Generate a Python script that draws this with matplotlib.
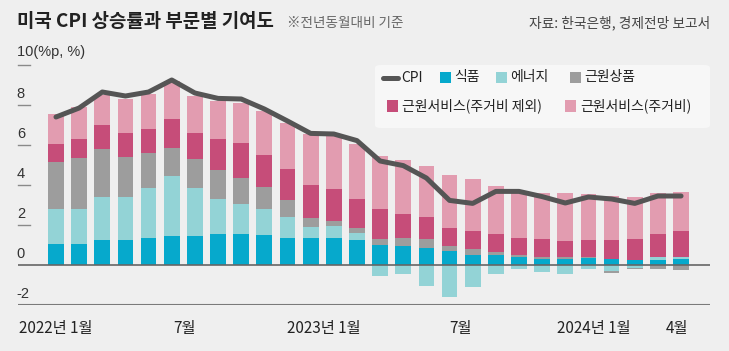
import numpy as np
import matplotlib
matplotlib.use("Agg")
import matplotlib.pyplot as plt
from matplotlib.patches import FancyBboxPatch, Rectangle
from matplotlib.lines import Line2D

plt.rcParams['font.family'] = ['Noto Sans CJK KR', 'DejaVu Sans']

# ---- data (contributions, %p; CPI, %) ----
months = ['2022-01', '2022-02', '2022-03', '2022-04', '2022-05', '2022-06', '2022-07',
          '2022-08', '2022-09', '2022-10', '2022-11', '2022-12', '2023-01', '2023-02',
          '2023-03', '2023-04', '2023-05', '2023-06', '2023-07', '2023-08', '2023-09',
          '2023-10', '2023-11', '2023-12', '2024-01', '2024-02', '2024-03', '2024-04']
food = [1.03, 1.03, 1.23, 1.25, 1.37, 1.43, 1.43, 1.55, 1.55, 1.48, 1.37, 1.37, 1.37, 1.27,
        1.02, 0.93, 0.85, 0.68, 0.52, 0.48, 0.42, 0.32, 0.32, 0.35, 0.30, 0.25, 0.25, 0.28]
energy = [1.75, 1.75, 2.19, 2.17, 2.50, 3.02, 2.44, 1.77, 1.50, 1.30, 1.05, 0.53, 0.58, 0.35,
          -0.57, -0.43, -1.03, -1.62, -1.12, -0.43, -0.18, -0.37, -0.45, -0.18, -0.32, -0.13, 0.15, 0.14]
core_goods = [2.39, 2.55, 2.40, 2.00, 1.71, 1.42, 1.41, 1.43, 1.32, 1.14, 0.83, 0.47, 0.25, 0.21,
              0.27, 0.44, 0.45, 0.27, 0.26, 0.15, 0.06, 0.08, 0.08, 0.05, -0.10, -0.08, -0.18, -0.27]
services_ex_shelter = [0.90, 0.95, 1.18, 1.20, 1.20, 1.41, 1.34, 1.53, 1.71, 1.58, 1.53, 1.63, 1.58, 1.49,
                       1.53, 1.20, 1.08, 0.92, 0.90, 0.90, 0.85, 0.88, 0.78, 0.85, 0.95, 1.07, 1.17, 1.28]
shelter = [1.50, 1.62, 1.48, 1.66, 1.75, 1.92, 1.83, 1.92, 2.04, 2.20, 2.34, 2.53, 2.67, 2.71,
           2.63, 2.70, 2.59, 2.63, 2.62, 2.44, 2.32, 2.32, 2.42, 2.28, 2.22, 2.08, 2.01, 1.97]
cpi = [7.40, 7.85, 8.65, 8.45, 8.65, 9.25, 8.60, 8.33, 8.30, 7.80, 7.20, 6.58, 6.55, 6.22,
       5.20, 4.97, 4.35, 3.23, 3.08, 3.68, 3.68, 3.42, 3.10, 3.40, 3.30, 3.08, 3.45, 3.45]

series_names = ['식품', '에너지', '근원상품', '근원서비스(주거비 제외)', '근원서비스(주거비)']
series_vals = [food, energy, core_goods, services_ex_shelter, shelter]
colors = ['#06a9cc', '#93d3d6', '#9d9d9d', '#c64d79', '#e29cb0']
cpi_color = '#555555'

xtick_pos = [0, 5.56, 11.58, 17.47, 23.24, 26.82]
xtick_labels = ['2022년 1월', '7월', '2023년 1월', '7월', '2024년 1월', '4월']
ytick_vals = [8, 6, 4, 2, 0, -2]

BG = '#efefef'
W, H = 729, 351
fig = plt.figure(figsize=(W / 100, H / 100), dpi=100, facecolor=BG)

def fx(px):
    return px / W

def fy(py):
    return 1 - py / H

ax_left, ax_right, ax_top, ax_bot = 18, 710, 65, 305
ax = fig.add_axes([fx(ax_left), fy(ax_bot), (ax_right - ax_left) / W, (ax_bot - ax_top) / H])
ax.set_facecolor(BG)
x = np.arange(len(months))
x0 = (ax_left - 56) / 23.15
x1 = (ax_right - 56) / 23.15
ax.set_xlim(x0, x1)
ax.set_ylim(-2, 10)
for s in ax.spines.values():
    s.set_visible(False)
ax.set_xticks([])
ax.set_yticks([])

pos_bottom = np.zeros(len(months))
neg_bottom = np.zeros(len(months))
for vals, c in zip(series_vals, colors):
    v = np.array(vals)
    pos = np.where(v > 0, v, 0)
    neg = np.where(v < 0, v, 0)
    ax.bar(x, pos, bottom=pos_bottom, width=0.68, color=c, linewidth=0, zorder=2)
    ax.bar(x, neg, bottom=neg_bottom, width=0.68, color=c, linewidth=0, zorder=2)
    pos_bottom += pos
    neg_bottom += neg

ax.axhline(0, color='#666666', lw=1.2, zorder=3)
ax.axhline(-2, color='#7a7a7a', lw=1.5, zorder=3)
ax.plot(x, cpi, color=cpi_color, lw=3.6, solid_joinstyle='round', solid_capstyle='round', zorder=5)

# y tick dashes and labels
dash_end = x0 + 12 / 23.15
for v in [10, 8, 6, 4, 2]:
    ax.plot([x0, dash_end], [v, v], color='#8a8a8a', lw=1.0, clip_on=False, zorder=3)
for v in ytick_vals:
    ax.text(x0 - 0.05, v + 0.33, str(v) if v >= 0 else '-2', ha='left', va='baseline',
            fontsize=10.5, color='#333333', family=['Liberation Sans', 'DejaVu Sans'])
ax.text(x0 - 0.05, 10 + 0.45, '10(%p, %)', ha='left', va='baseline', fontsize=10.5,
        color='#333333', family=['Liberation Sans', 'DejaVu Sans'])

for p, lab in zip(xtick_pos, xtick_labels):
    ax.text(p, -2 - 28 / 20, lab, ha='center', va='baseline', fontsize=11, color='#222222',
            clip_on=False)

# title, subtitle, source
fig.text(fx(17), fy(21.5), '미국 CPI 상승률과 부문별 기여도', fontsize=13.6, fontweight='bold',
         color='#222222', ha='left', va='center')
fig.text(fx(287), fy(23), '※전년동월대비 기준', fontsize=9.8, color='#666666', ha='left', va='center')
fig.text(fx(710), fy(23), '자료: 한국은행, 경제전망 보고서', fontsize=9.9, color='#444444',
         ha='right', va='center')

# legend (manual)
box = FancyBboxPatch((fx(375), fy(128)), fx(710) - fx(375), fy(65) - fy(128),
                     boxstyle='round,pad=0,rounding_size=0.008', transform=fig.transFigure,
                     facecolor='#f7f7f7', edgecolor='none', zorder=1)
fig.add_artist(box)

def sq(px, py, c):
    fig.add_artist(Rectangle((fx(px), fy(py + 11)), 11 / W, 11 / H, transform=fig.transFigure,
                             facecolor=c, edgecolor='none', zorder=2))

r1, r2 = 77.5, 106
fig.add_artist(Line2D([fx(383), fx(398)], [fy(r1), fy(r1)], transform=fig.transFigure,
                      color=cpi_color, lw=3.6, solid_capstyle='round', zorder=2))
fig.text(fx(401), fy(r1), 'CPI', fontsize=10, color='#222222', ha='left', va='center', zorder=3)
items1 = [(440, colors[0], series_names[0]), (496, colors[1], series_names[1]),
          (570, colors[2], series_names[2])]
for px, c, t in items1:
    sq(px, r1 - 5.5, c)
    fig.text(fx(px + 14), fy(r1), t, fontsize=10, color='#222222', ha='left', va='center', zorder=3)
items2 = [(387, colors[3], series_names[3]), (565, colors[4], series_names[4])]
for px, c, t in items2:
    sq(px, r2 - 5.5, c)
    fig.text(fx(px + 15), fy(r2), t, fontsize=10, color='#222222', ha='left', va='center', zorder=3)

fig.savefig('out.png', dpi=100, facecolor=BG)
